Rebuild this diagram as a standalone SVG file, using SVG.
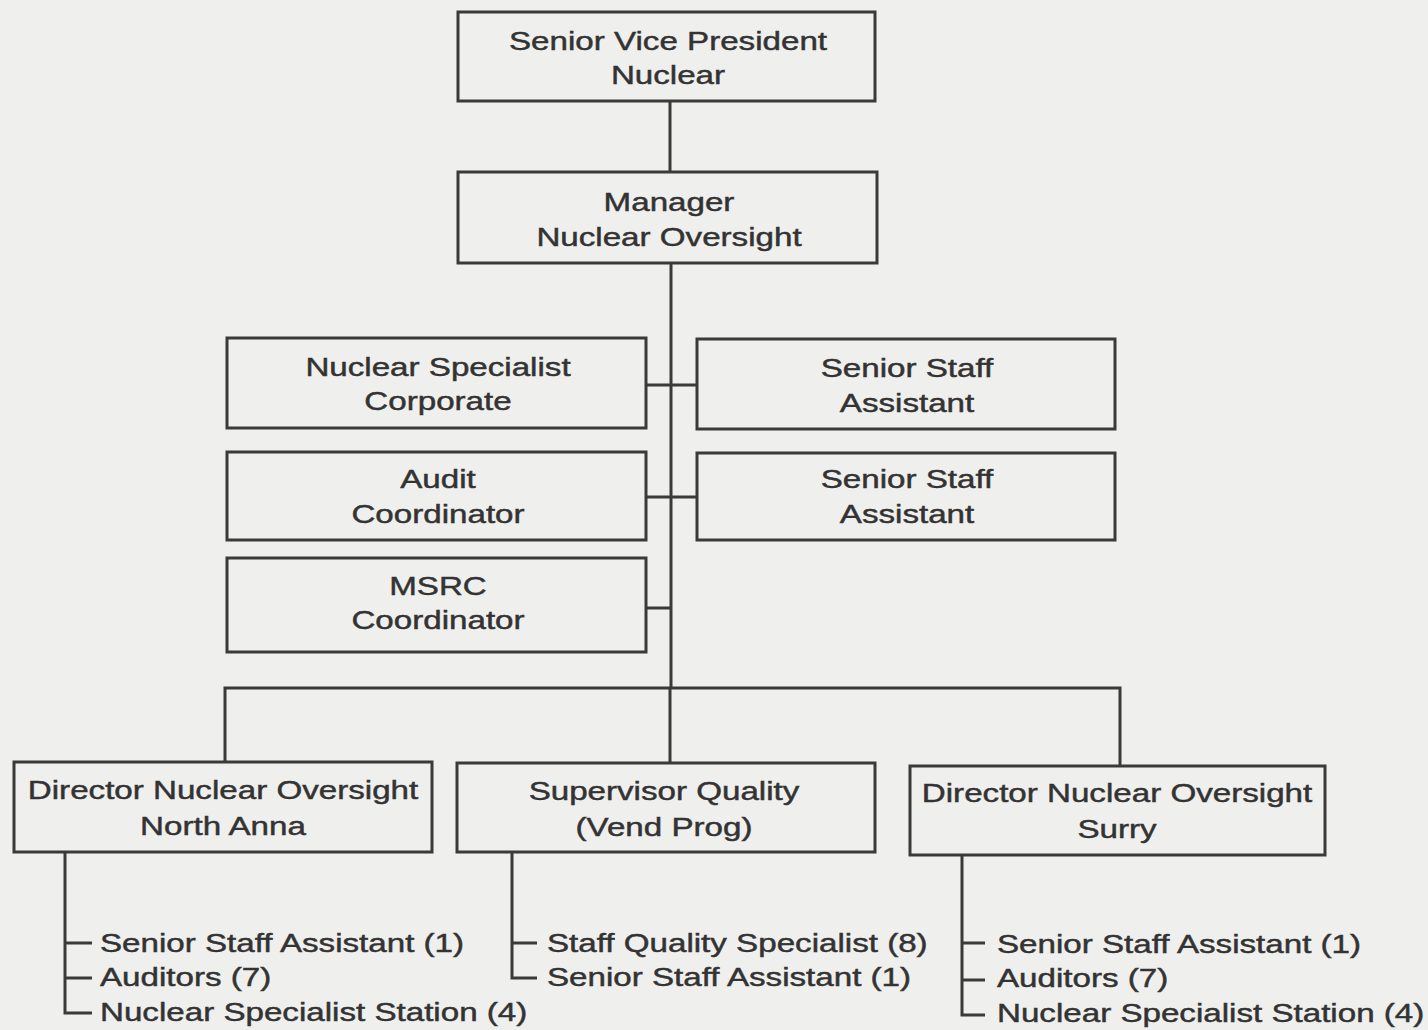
<svg xmlns="http://www.w3.org/2000/svg" width="1428" height="1030" viewBox="0 0 1428 1030">
<style>
.bg{fill:#efefed}
.box{fill:none;stroke:#3a3a3a;stroke-width:3}
.ln{fill:none;stroke:#3a3a3a;stroke-width:3}
text{font-family:"Liberation Sans",Arial,Helvetica,sans-serif;font-size:25.5px;fill:#333333;stroke:#333333;stroke-width:0.45px}
.c{text-anchor:middle}
</style>
<rect class="bg" x="0" y="0" width="1428" height="1030"/>
<g id="connectors">
<path class="ln" d="M670 101V172"/>
<path class="ln" d="M671 263V688"/>
<path class="ln" d="M646 385H697"/>
<path class="ln" d="M646 497H697"/>
<path class="ln" d="M646 608H671"/>
<path class="ln" d="M225 763V688H1120V766"/>
<path class="ln" d="M670 688V763"/>
<path class="ln" d="M65 852V1013H92M65 943H92M65 978H92"/>
<path class="ln" d="M512 852V978H537M512 943H537"/>
<path class="ln" d="M962 855V1015H985M962 943H985M962 980H985"/>
</g>
<g id="svp">
<rect class="box" x="458" y="12" width="417" height="89"/>
<text class="c" transform="translate(668,50) scale(1.3,1)">Senior Vice President</text>
<text class="c" transform="translate(668,84) scale(1.3,1)">Nuclear</text>
</g>
<g id="manager">
<rect class="box" x="458" y="172" width="419" height="91"/>
<text class="c" transform="translate(669,211) scale(1.3,1)">Manager</text>
<text class="c" transform="translate(669,246) scale(1.3,1)">Nuclear Oversight</text>
</g>
<g id="ns-corporate">
<rect class="box" x="227" y="338" width="419" height="90"/>
<text class="c" transform="translate(438,376) scale(1.3,1)">Nuclear Specialist</text>
<text class="c" transform="translate(438,410) scale(1.3,1)">Corporate</text>
</g>
<g id="audit">
<rect class="box" x="227" y="452" width="419" height="88"/>
<text class="c" transform="translate(438,488) scale(1.3,1)">Audit</text>
<text class="c" transform="translate(438,523) scale(1.3,1)">Coordinator</text>
</g>
<g id="msrc">
<rect class="box" x="227" y="558" width="419" height="94"/>
<text class="c" transform="translate(438,595) scale(1.3,1)">MSRC</text>
<text class="c" transform="translate(438,629) scale(1.3,1)">Coordinator</text>
</g>
<g id="ssa1">
<rect class="box" x="697" y="339" width="418" height="90"/>
<text class="c" transform="translate(907,377) scale(1.3,1)">Senior Staff</text>
<text class="c" transform="translate(907,412) scale(1.3,1)">Assistant</text>
</g>
<g id="ssa2">
<rect class="box" x="697" y="453" width="418" height="87"/>
<text class="c" transform="translate(907,488) scale(1.3,1)">Senior Staff</text>
<text class="c" transform="translate(907,523) scale(1.3,1)">Assistant</text>
</g>
<g id="dno-na">
<rect class="box" x="14" y="762" width="418" height="90"/>
<text class="c" transform="translate(223,799) scale(1.3,1)">Director Nuclear Oversight</text>
<text class="c" transform="translate(223,835) scale(1.3,1)">North Anna</text>
</g>
<g id="supq">
<rect class="box" x="457" y="763" width="418" height="89"/>
<text class="c" transform="translate(664,800) scale(1.3,1)">Supervisor Quality</text>
<text class="c" transform="translate(664,836) scale(1.3,1)">(Vend Prog)</text>
</g>
<g id="dno-surry">
<rect class="box" x="910" y="766" width="415" height="89"/>
<text class="c" transform="translate(1117,802) scale(1.3,1)">Director Nuclear Oversight</text>
<text class="c" transform="translate(1117,838) scale(1.3,1)">Surry</text>
</g>
<g id="list-na">
<text transform="translate(100,952) scale(1.3,1)">Senior Staff Assistant (1)</text>
<text transform="translate(100,986) scale(1.3,1)">Auditors (7)</text>
<text transform="translate(100,1021) scale(1.3,1)">Nuclear Specialist Station (4)</text>
</g>
<g id="list-supq">
<text transform="translate(547,952) scale(1.3,1)">Staff Quality Specialist (8)</text>
<text transform="translate(547,986) scale(1.3,1)">Senior Staff Assistant (1)</text>
</g>
<g id="list-surry">
<text transform="translate(997,953) scale(1.3,1)">Senior Staff Assistant (1)</text>
<text transform="translate(997,987) scale(1.3,1)">Auditors (7)</text>
<text transform="translate(997,1022) scale(1.3,1)">Nuclear Specialist Station (4)</text>
</g>
</svg>
